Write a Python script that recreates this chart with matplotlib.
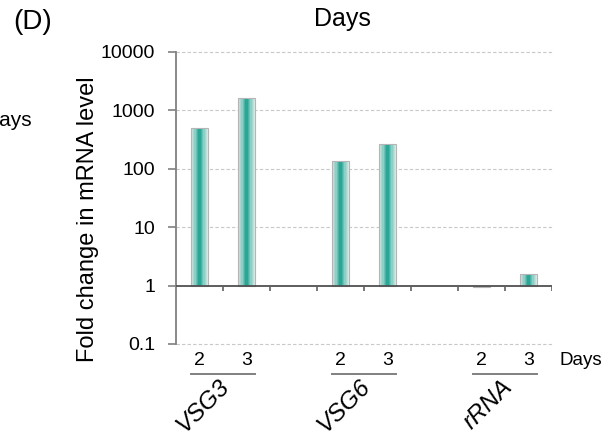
import matplotlib
matplotlib.use("Agg")
import matplotlib.pyplot as plt
import matplotlib.ticker as ticker
from matplotlib.colors import LinearSegmentedColormap
import numpy as np

plt.rcParams['font.family'] = ['Liberation Sans', 'DejaVu Sans']

# 数据
genes = ['VSG3', 'VSG6', 'rRNA']
days = ['2', '3']
fold_change = [[500, 1630],   # VSG3
               [137, 268],    # VSG6
               [0.95, 1.55]]  # rRNA
y_ticks = [0.1, 1, 10, 100, 1000, 10000]

fig = plt.figure(figsize=(6.16, 4.36), dpi=100)
ax = fig.add_axes((176 / 616, 92 / 436, 376 / 616, 292 / 436))
ax.set_yscale('log')
ax.set_ylim(0.1, 10000)
ax.set_xlim(-0.5, 7.5)

# 渐变色柱子：中间青绿，两边浅灰
cmap = LinearSegmentedColormap.from_list('teal', ['#e4ecea', '#8ccfc5', '#1a9f90'])
bar_w = 0.38
n_strip = 14
for g, gene in enumerate(genes):
    for d, day in enumerate(days):
        x = g * 3 + d
        v = fold_change[g][d]
        edges = np.linspace(x - bar_w / 2, x + bar_w / 2, n_strip + 1)
        for k in range(n_strip):
            mid = (edges[k] + edges[k + 1]) / 2
            t = 1 - abs(mid - x) / (bar_w / 2)
            ax.bar(mid, v - 1, bottom=1, width=edges[k + 1] - edges[k],
                   color=cmap(t), linewidth=0, zorder=3)
        ax.bar(x, v - 1, bottom=1, width=bar_w, facecolor='none',
               edgecolor='#b5b5b5', linewidth=0.8, zorder=4)

# 网格线
for yv in [0.1, 10, 100, 1000, 10000]:
    ax.axhline(yv, color='#c8c8c8', lw=0.8, ls=(0, (3, 2)), zorder=1, clip_on=False)
ax.axhline(1, color='#505050', lw=1.3, zorder=5)

# x方向的刻度线（在 y=1 下方）
bounds = [i + 0.5 for i in range(8)]
ax.vlines(bounds, 1 / 1.23, 1, color='#606060', lw=1.2, zorder=5)

for s in ['top', 'right', 'bottom']:
    ax.spines[s].set_visible(False)
ax.spines['left'].set_color('#808080')
ax.spines['left'].set_linewidth(1.3)

ax.yaxis.set_major_locator(ticker.FixedLocator(y_ticks))
ax.yaxis.set_major_formatter(ticker.FuncFormatter(lambda v, p: '%g' % v))
ax.yaxis.set_minor_locator(ticker.NullLocator())
ax.tick_params(axis='y', direction='out', length=6, width=1.2, color='#808080',
               labelsize=14, pad=9)
ax.set_xticks([])

trans = ax.get_xaxis_transform()
for g, gene in enumerate(genes):
    for d, day in enumerate(days):
        ax.text(g * 3 + d, -0.055, day, transform=trans, ha='center', va='center',
                fontsize=14)
    c = g * 3 + 0.5
    ax.plot([c - 0.69, c + 0.69], [-0.103, -0.103], transform=trans, color='#808080',
            lw=1.4, clip_on=False)
    ax.text(c + 0.17, -0.15, gene, transform=trans, ha='right', va='baseline',
            rotation=45, rotation_mode='anchor', fontsize=17.5, style='italic')
ax.text(7.67, -0.055, 'Days', transform=trans, ha='left', va='center', fontsize=13.5)

fig.text(342 / 616, 1 - 19 / 436, 'Days', ha='center', va='center', fontsize=18)
fig.text(13 / 616, 1 - 22 / 436, '(D)', ha='left', va='center', fontsize=20)
fig.text(32 / 616, 1 - 126 / 436, 'Days', ha='right', va='baseline', fontsize=15)
fig.text(88 / 616, 1 - 219 / 436, 'Fold change in mRNA level', rotation=90,
         ha='center', va='center', fontsize=17)

fig.savefig('out.png', dpi=100)
